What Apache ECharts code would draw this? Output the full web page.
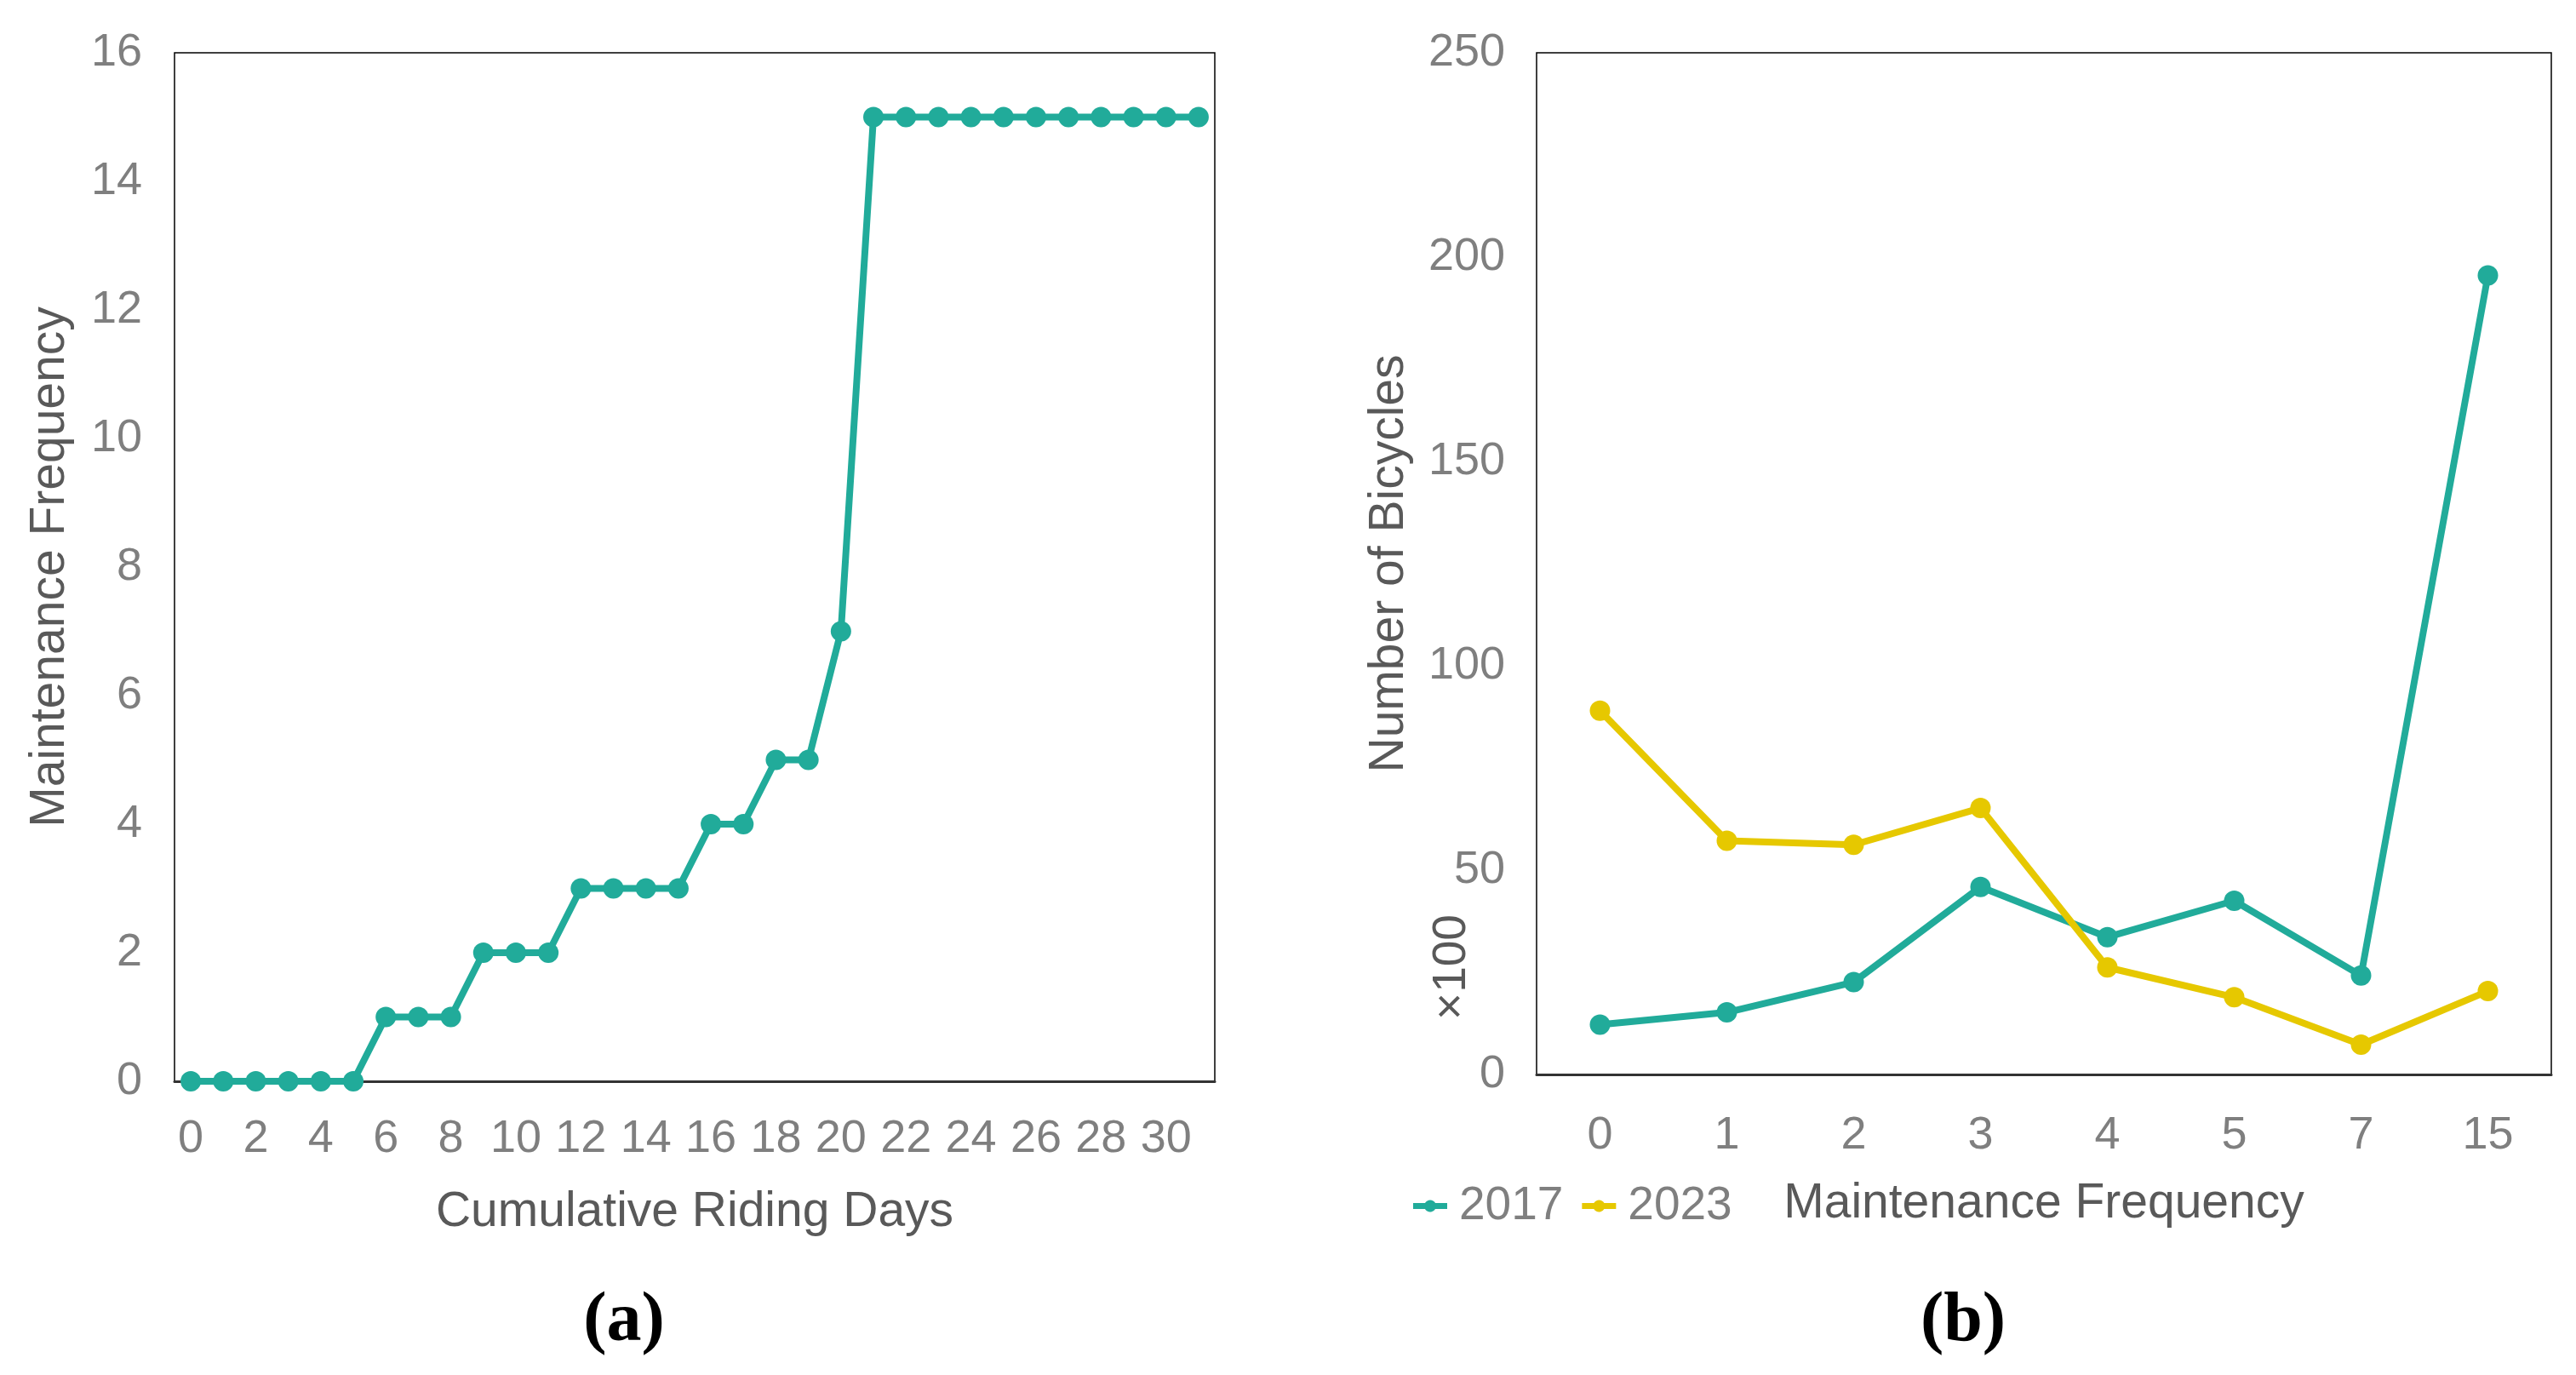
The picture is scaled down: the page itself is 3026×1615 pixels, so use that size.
<!DOCTYPE html>
<html><head><meta charset="utf-8">
<script src="https://cdn.jsdelivr.net/npm/echarts@6/dist/echarts.min.js"></script>
<style>html,body{margin:0;padding:0;background:#fff}#c{width:3026px;height:1615px}</style>
</head><body><div id="c"></div>
<script>
const daysCategories = ['0','1','2','3','4','5','6','7','8','9','10','11','12','13','14','15','16','17','18','19','20','21','22','23','24','25','26','27','28','29','30','31'];
const maintenanceA = [0,0,0,0,0,0,1,1,1,2,2,2,3,3,3,3,4,4,5,5,7,15,15,15,15,15,15,15,15,15,15,15];
const freqCategories = ['0','1','2','3','4','5','7','15'];
const bikes2017 = [12.2,15.2,22.6,45.9,33.6,42.5,24.2,195.5];
const bikes2023 = [89.0,57.2,56.2,65.2,26.2,18.9,7.3,20.4];
const legendNames = ['2017','2023'];
const yTicksA = {min:0,max:16,interval:2};
const yTicksB = {min:0,max:250,interval:50};

const FONT = "'Liberation Sans',Arial,sans-serif";
const TEAL = '#21ab9a', YELLOW = '#e6c800';
const tickLbl = {color:'#7f7f7f', fontSize:54, fontFamily:FONT};
const nameTxt = {color:'#595959', fontSize:57, fontFamily:FONT};
const LEGEND_ICON = 'path://M0,3.5 L13.938,3.5 A7,7 0 0,1 26.062,3.5 L40,3.5 L40,10.5 L26.062,10.5 A7,7 0 0,1 13.938,10.5 L0,10.5 Z';

const chart = echarts.init(document.getElementById('c'), null, {renderer:'canvas'});
chart.setOption({
  animation:false,
  backgroundColor:'#fff',
  grid:[
    {left:205, top:62, width:1222, height:1208, show:true, borderColor:'#000', borderWidth:1.5, containLabel:false},
    {left:1805, top:62, width:1192, height:1200, show:true, borderColor:'#000', borderWidth:1.5, containLabel:false}
  ],
  legend:{
    left:1655, top:1384, itemWidth:40, itemHeight:14, itemGap:22,
    icon:LEGEND_ICON,
    itemStyle:{borderWidth:0},
    data:legendNames,
    textStyle:{color:'#7f7f7f', fontSize:55, fontFamily:FONT, padding:[0,0,0,9]}
  },
  xAxis:[
    {type:'category', gridIndex:0, data:daysCategories, boundaryGap:true,
     axisLine:{show:true, lineStyle:{color:'#333', width:3}}, axisTick:{show:false},
     axisLabel:{...tickLbl, interval:1, margin:41},
     name:'Cumulative Riding Days', nameLocation:'middle', nameGap:126, nameTextStyle:nameTxt},
    {type:'category', gridIndex:1, data:freqCategories, boundaryGap:true,
     axisLine:{show:true, lineStyle:{color:'#333', width:3}}, axisTick:{show:false},
     axisLabel:{...tickLbl, margin:45},
     name:'Maintenance Frequency', nameLocation:'middle', nameGap:124, nameTextStyle:nameTxt}
  ],
  yAxis:[
    {type:'value', gridIndex:0, ...yTicksA, axisLine:{show:false}, axisTick:{show:false}, splitLine:{show:false},
     axisLabel:{...tickLbl, margin:38},
     name:'Maintenance Frequency', nameLocation:'middle', nameGap:117, nameTextStyle:nameTxt},
    {type:'value', gridIndex:1, ...yTicksB, axisLine:{show:false}, axisTick:{show:false}, splitLine:{show:false},
     axisLabel:{...tickLbl, margin:37},
     name:'Number of Bicycles', nameLocation:'middle', nameGap:144, nameTextStyle:nameTxt}
  ],
  series:[
    {type:'line', xAxisIndex:0, yAxisIndex:0, data:maintenanceA, symbol:'circle', symbolSize:24,
     lineStyle:{color:TEAL, width:8}, itemStyle:{color:TEAL}},
    {name:legendNames[0], type:'line', xAxisIndex:1, yAxisIndex:1, data:bikes2017, symbol:'circle', symbolSize:24,
     lineStyle:{color:TEAL, width:8}, itemStyle:{color:TEAL}},
    {name:legendNames[1], type:'line', xAxisIndex:1, yAxisIndex:1, data:bikes2023, symbol:'circle', symbolSize:24,
     lineStyle:{color:YELLOW, width:8}, itemStyle:{color:YELLOW}}
  ],
  graphic:[
    {type:'text', x:1706, y:1136, rotation:Math.PI/2,
     style:{text:'×100', fontSize:55, fontFamily:FONT, fill:'#595959', align:'center', verticalAlign:'middle'}},
    {type:'text', x:733, y:1553,
     style:{text:'(a)', fontSize:82, fontWeight:'bold', fontFamily:"'Liberation Serif','DejaVu Serif',serif", fill:'#000', align:'center', verticalAlign:'middle'}},
    {type:'text', x:2306, y:1553,
     style:{text:'(b)', fontSize:82, fontWeight:'bold', fontFamily:"'Liberation Serif','DejaVu Serif',serif", fill:'#000', align:'center', verticalAlign:'middle'}}
  ]
});
</script></body></html>
